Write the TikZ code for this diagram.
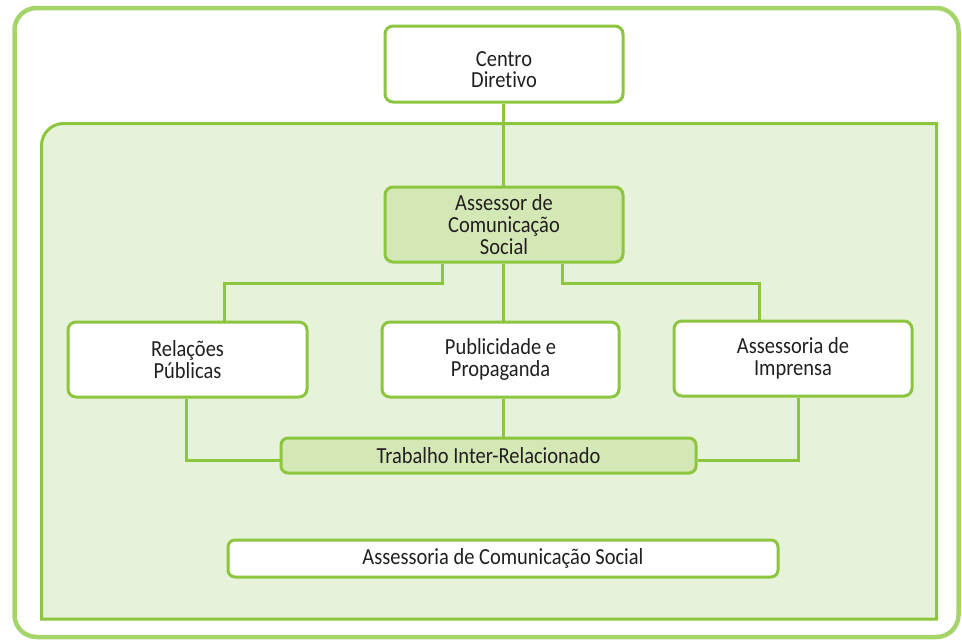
\documentclass[tikz,border=0pt]{standalone}
\usepackage{fontspec}
\setmainfont{Carlito}[FakeStretch=0.89, Ligatures=NoCommon]
\definecolor{frame}{HTML}{A5D46A}
\definecolor{gline}{HTML}{8CC63F}
\definecolor{gbg}{HTML}{E6F2D9}
\definecolor{gbox}{HTML}{D3E8B5}
\definecolor{txt}{HTML}{231F20}
\tikzset{
  box/.style={draw=gline, line width=3pt, fill=white, rounded corners=8pt, align=center,
    text=txt, font=\fontsize{23pt}{21.7pt}\selectfont, inner sep=0pt},
  gbx/.style={box, fill=gbox},
  conn/.style={draw=gline, line width=3pt},
}
\begin{document}
\begin{tikzpicture}[x=1pt,y=-1pt]
\useasboundingbox (0,0) rectangle (962,640);
\draw[frame, line width=4.5pt, rounded corners=22pt] (14.5,8) rectangle (958.5,637);
\draw[gline, fill=gbg, line width=3pt] (41.5,619) [rounded corners=22pt] -- (41.5,123.5) [sharp corners] -- (936.5,123.5) -- (936.5,619) -- cycle;

\node[box, minimum width=238pt, minimum height=76pt] (centro) at (504,64) {\rule{0pt}{26pt}Centro\\Diretivo};
\node[gbx, minimum width=238pt, minimum height=75pt] (assessor) at (504,224.5) {Assessor de\\Comunicação\\Social};
\node[box, minimum width=239pt, minimum height=75pt] (relacoes) at (187.5,359.5) {Relações\\Públicas};
\node[box, minimum width=237pt, minimum height=75pt] (publi) at (500.5,359.5) {Publicidade e\\Propaganda};
\node[box, minimum width=238pt, minimum height=75pt] (imprensa) at (793,358.5) {Assessoria de\\Imprensa};
\node[gbx, minimum width=415pt, minimum height=35pt, rounded corners=7pt] (trab) at (488.5,455.5) {Trabalho Inter-Relacionado};
\node[box, minimum width=550pt, minimum height=37pt, rounded corners=7pt] (acs) at (503,558.5) {Assessoria de Comunicação Social};

\coordinate (mx) at (503,0);
\coordinate (ja) at (442,283);
\coordinate (jb) at (562,283);
\coordinate (rx) at (224,0);
\coordinate (ix) at (759,0);
\coordinate (lx) at (186,0);
\coordinate (px) at (798,0);
\coordinate (ty) at (0,460);

\draw[conn] (centro.south -| mx) -- (assessor.north -| mx);
\draw[conn] (ja |- assessor.south) -- (ja) -| (relacoes.north -| rx);
\draw[conn] (jb |- assessor.south) -- (jb) -| (imprensa.north -| ix);
\draw[conn] (assessor.south -| mx) -- (publi.north -| mx);
\draw[conn] (publi.south -| mx) -- (trab.north -| mx);
\draw[conn] (relacoes.south -| lx) |- (trab.west |- ty);
\draw[conn] (imprensa.south -| px) |- (trab.east |- ty);
\end{tikzpicture}
\end{document}
